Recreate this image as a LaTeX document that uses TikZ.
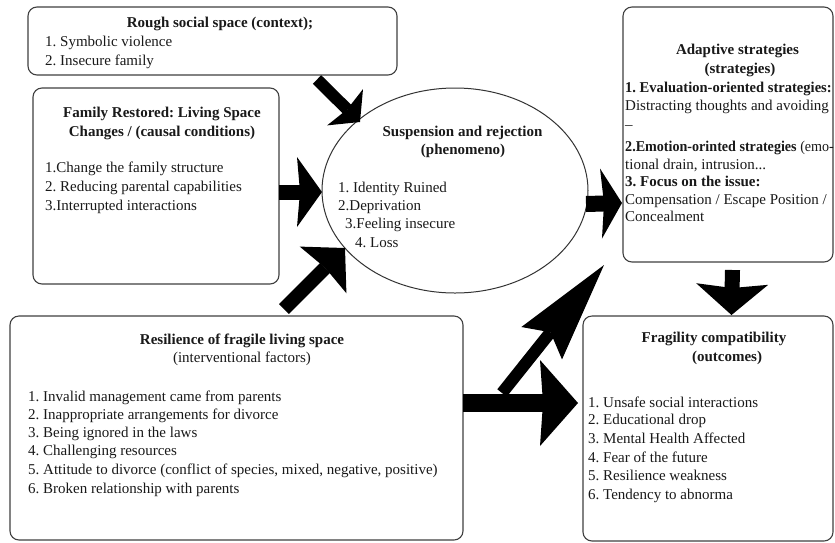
\documentclass[tikz,border=0pt]{standalone}
\usepackage{fontspec}
\setmainfont{Liberation Serif}
\newfontfamily\narrowserif{Liberation Serif}[FakeStretch=0.94]
\newfontfamily\semiserif{Liberation Serif}[FakeStretch=0.97]
\usetikzlibrary{arrows.meta,shapes.geometric}
\frenchspacing
\begin{document}
\begin{tikzpicture}[x=1pt,y=-1pt,
  box/.style={draw=black!75, line width=1.1pt, rounded corners=9pt, inner sep=0pt},
  txt/.style={inner sep=0pt, font=\fontsize{15}{18}\selectfont, text=black!90},
  ttl/.style={inner sep=0pt, font=\fontsize{15}{18}\selectfont\bfseries, text=black!90},
  blk/.style={line width=#1, draw=black},
]
\fill[white] (0,0) rectangle (835,542);
\useasboundingbox (0,0) rectangle (835,542);

% boxes
\node[box, minimum width=369pt, minimum height=68pt] (A) at (212.5,41) {};
\node[box, minimum width=246pt, minimum height=196pt] (B) at (156,186) {};
\node[box, minimum width=210pt, minimum height=255pt] (C) at (728,134.5) {};
\node[box, minimum width=453pt, minimum height=224pt] (D) at (236.5,428) {};
\node[box, minimum width=250pt, minimum height=225pt] (E) at (708,428.5) {};
\node[draw=black!80, line width=1pt, ellipse, minimum width=266pt, minimum height=205pt, inner sep=0pt] (P) at (455,190.5) {};

% box A text
\node[ttl, anchor=base] (At) at (220,27.5) {Rough social space (context);};
\node[txt, anchor=base west] (A1) at (45,46.5) {1. Symbolic violence};
\node[txt, anchor=base west] (A2) at (45,65) {2. Insecure family};

% box B text
\node[ttl, anchor=base] (Bt1) at (162,117.5) {Family Restored: Living Space};
\node[ttl, anchor=base] (Bt2) at (162,136.5) {Changes / (causal conditions)};
\node[txt, anchor=base west] (B1) at (45,172.5) {1.Change the family structure};
\node[txt, anchor=base west] (B2) at (45,191.5) {2. Reducing parental capabilities};
\node[txt, anchor=base west] (B3) at (45,210.5) {3.Interrupted interactions};

% ellipse text
\node[ttl, anchor=base] (Pt1) at (462.5,136.5) {Suspension and rejection};
\node[ttl, anchor=base] (Pt2) at (463,154.5) {(phenomeno)};
\node[txt, anchor=base west] (P1) at (338,192.5) {1. Identity Ruined};
\node[txt, anchor=base west] (P2) at (338,210.5) {2.Deprivation};
\node[txt, anchor=base west] (P3) at (345,228.5) {3.Feeling insecure};
\node[txt, anchor=base west] (P4) at (355,247.5) {4. Loss};

% box C text
\node[ttl, anchor=base] (Ct1) at (737.5,54.5) {Adaptive strategies};
\node[ttl, anchor=base] (Ct2) at (740,73) {(strategies)};
\node[ttl, anchor=base west] (C1) at (625,92) {\semiserif\bfseries 1. Evaluation-oriented strategies:};
\node[txt, anchor=base west] (C2) at (625,110.5) {Distracting thoughts and avoiding};
\node[txt, anchor=base west] (C3) at (625,129) {--};
\node[txt, anchor=base west] (C4) at (625,151) {\narrowserif\textbf{2.Emotion-orinted strategies} (emo-};
\node[txt, anchor=base west] (C5) at (625,169) {tional drain, intrusion...};
\node[ttl, anchor=base west] (C6) at (625,186) {3. Focus on the issue:};
\node[txt, anchor=base west] (C7) at (625,204) {Compensation / Escape Position /};
\node[txt, anchor=base west] (C8) at (625,221) {Concealment};

% box D text
\node[ttl, anchor=base] (Dt1) at (242,344.5) {Resilience of fragile living space};
\node[txt, anchor=base] (Dt2) at (242,362.5) {(interventional factors)};
\node[txt, anchor=base west] (D1) at (28,401) {1. Invalid management came from parents};
\node[txt, anchor=base west] (D2) at (28,419) {2. Inappropriate arrangements for divorce};
\node[txt, anchor=base west] (D3) at (28,437) {3. Being ignored in the laws};
\node[txt, anchor=base west] (D4) at (28,455.5) {4. Challenging resources};
\node[txt, anchor=base west] (D5) at (28,474.5) {5. Attitude to divorce (conflict of species, mixed, negative, positive)};
\node[txt, anchor=base west] (D6) at (28,493) {6. Broken relationship with parents};

% box E text
\node[ttl, anchor=base] (Et1) at (714,342.5) {Fragility compatibility};
\node[ttl, anchor=base] (Et2) at (727,361.5) {(outcomes)};
\node[txt, anchor=base west] (E1) at (588,407) {1. Unsafe social interactions};
\node[txt, anchor=base west] (E2) at (588,424.5) {2. Educational drop};
\node[txt, anchor=base west] (E3) at (588,443.5) {3. Mental Health Affected};
\node[txt, anchor=base west] (E4) at (588,462) {4. Fear of the future};
\node[txt, anchor=base west] (E5) at (588,480.5) {5. Resilience weakness};
\node[txt, anchor=base west] (E6) at (588,499.5) {6. Tendency to abnorma};

% arrow end points
\coordinate (a1s) at (317,79.5);  \coordinate (a1e) at (360,122);
\coordinate (a2s) at (279,192);   \coordinate (a2e) at (322,192);
\coordinate (a3s) at (284,309);   \coordinate (a3e) at (345,248);
\coordinate (a4s) at (586,204);   \coordinate (a4e) at (622,203);
\coordinate (a5s) at (732.5,270); \coordinate (a5e) at (731.5,315);
\coordinate (a6s) at (463,403);   \coordinate (a6e) at (578,403);
\coordinate (a7s) at (502,393);   \coordinate (a7e) at (604,265);

\draw[blk=12pt, -{Stealth[line width=0pt,length=21pt,width=51pt,inset=3pt]}] (a1s) -- (a1e);
\draw[blk=15pt, -{Stealth[line width=0pt,length=25pt,width=70pt,inset=3pt]}] (a2s) -- (a2e);
\draw[blk=14pt, -{Stealth[line width=0pt,length=31pt,width=66pt,inset=3pt]}] (a3s) -- (a3e);
\draw[blk=16pt, -{Stealth[line width=0pt,length=21pt,width=70pt,inset=3pt]}] (a4s) -- (a4e);
\draw[blk=15pt, -{Stealth[line width=0pt,length=31pt,width=72pt,inset=4pt]}] (a5s) -- (a5e);
\draw[blk=12pt, -{Stealth[line width=0pt,length=100pt,width=52pt,inset=14pt]}] (a7s) -- (a7e);
\draw[blk=18pt, -{Stealth[line width=0pt,length=38pt,width=86pt,inset=3pt]}] (a6s) -- (a6e);
\end{tikzpicture}
\end{document}
